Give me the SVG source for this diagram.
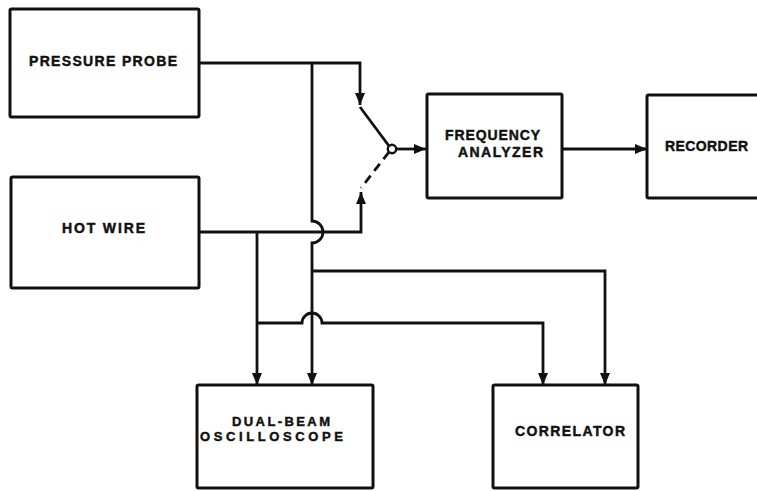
<svg xmlns="http://www.w3.org/2000/svg" width="757" height="491" viewBox="0 0 757 491">
<style>
.box{fill:#fff;stroke:#111;stroke-width:3}
.lbl{font-family:"Liberation Sans",Arial,sans-serif;font-weight:bold;font-size:14px;fill:#111;stroke:#111;stroke-width:0.45}
.sm{font-size:13px}
.w{fill:none;stroke:#111;stroke-width:2.8}
</style>
<defs>
<marker id="ah" markerUnits="userSpaceOnUse" markerWidth="14" markerHeight="12" refX="12" refY="5" orient="auto">
<path d="M0,0 L12,5 L0,10 z" fill="#111"/>
</marker>
</defs>
<rect width="757" height="491" fill="#fff"/>
<g id="connectors">
<path class="w" d="M199,63 H360 V105" marker-end="url(#ah)"/>
<path class="w" d="M312,63 V221 A11,11 0 0 1 312,243 V385" marker-end="url(#ah)"/>
<path class="w" d="M312,271 H605 V385" marker-end="url(#ah)"/>
<path class="w" d="M199,232 H361 V192" marker-end="url(#ah)"/>
<path class="w" d="M257,232 V385" marker-end="url(#ah)"/>
<path class="w" d="M257,323 H302 A10,10 0 0 1 322,323 H543 V385" marker-end="url(#ah)"/>
<path class="w" d="M360,107 L389,146"/>
<path class="w" d="M389,152 L361,188" stroke-dasharray="9,6"/>
<circle cx="392" cy="149" r="4.2" fill="#fff" stroke="#111" stroke-width="2.4"/>
<path class="w" d="M396,149 H426" marker-end="url(#ah)"/>
<path class="w" d="M562,149 H647" marker-end="url(#ah)"/>
</g>
<g id="pressure-probe">
<rect class="box" x="10" y="9" width="189" height="108" rx="1.5"/>
<text class="lbl" x="29" y="66" textLength="148" lengthAdjust="spacing">PRESSURE PROBE</text>
</g>
<g id="hot-wire">
<rect class="box" x="11" y="177" width="188" height="111" rx="1.5"/>
<text class="lbl" x="62" y="233" textLength="83" lengthAdjust="spacing">HOT WIRE</text>
</g>
<g id="frequency-analyzer">
<rect class="box" x="427" y="94" width="135" height="104" rx="1.5"/>
<text class="lbl" x="445" y="140" textLength="95" lengthAdjust="spacing">FREQUENCY</text>
<text class="lbl" x="458" y="157" textLength="85" lengthAdjust="spacing">ANALYZER</text>
</g>
<g id="recorder">
<rect class="box" x="647" y="95" width="120" height="103" rx="1.5"/>
<text class="lbl" x="665" y="151" textLength="83" lengthAdjust="spacing">RECORDER</text>
</g>
<g id="oscilloscope">
<rect class="box" x="197" y="385" width="176" height="103" rx="1.5"/>
<text class="lbl sm" x="232" y="426" textLength="98" lengthAdjust="spacing">DUAL-BEAM</text>
<text class="lbl sm" x="200" y="441" textLength="143" lengthAdjust="spacing">OSCILLOSCOPE</text>
</g>
<g id="correlator">
<rect class="box" x="493" y="385" width="145" height="103" rx="1.5"/>
<text class="lbl" x="515" y="436" textLength="110" lengthAdjust="spacing">CORRELATOR</text>
</g>
</svg>
